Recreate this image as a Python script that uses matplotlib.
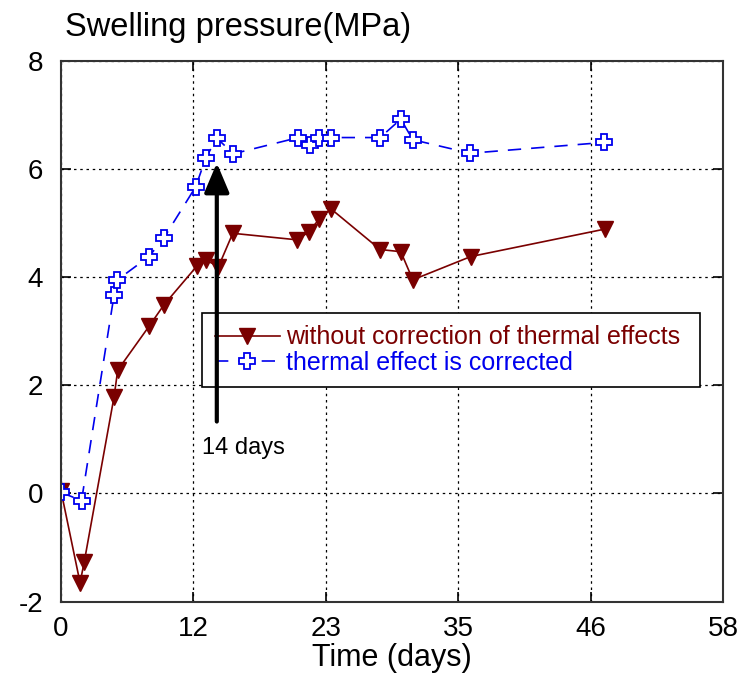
import matplotlib.pyplot as plt
import numpy as np

plt.rcParams['font.family'] = ['Liberation Sans', 'DejaVu Sans']
plt.rcParams['axes.unicode_minus'] = False

# --- data ---
t_raw = [0, 1.67, 2.04, 4.65, 4.97, 7.71, 9.03, 11.89, 12.68, 13.79,
         15.05, 20.65, 21.7, 22.64, 23.66, 27.96, 29.77, 30.82, 35.9, 47.7]
p_raw = [0.05, -1.65, -1.26, 1.79, 2.28, 3.09, 3.49, 4.20, 4.32, 4.19,
         4.81, 4.69, 4.83, 5.08, 5.26, 4.51, 4.47, 3.95, 4.38, 4.89]

t_corr = [0, 1.8, 4.65, 4.88, 7.71, 9.03, 11.8, 12.68, 13.65, 15.1,
          20.8, 21.8, 22.6, 23.66, 27.96, 29.77, 30.82, 35.85, 47.6]
p_corr = [0.02, -0.13, 3.67, 3.94, 4.38, 4.73, 5.67, 6.20, 6.57, 6.28,
          6.58, 6.45, 6.58, 6.58, 6.58, 6.92, 6.54, 6.29, 6.49]

x_ticks = np.linspace(0, 58, 6)
x_labels = ['0', '12', '23', '35', '46', '58']
y_ticks = [-2, 0, 2, 4, 6, 8]

label_raw = 'without correction of thermal effects'
label_corr = 'thermal effect is corrected'

red = '#7a0000'
blue = '#0000ee'

fig = plt.figure(figsize=(7.43, 6.87), dpi=100)
ax = fig.add_axes([0.0821, 0.1242, 0.891, 0.7874])

ax.plot(t_raw, p_raw, color=red, lw=1.2, marker='v', markersize=11,
        markerfacecolor=red, markeredgecolor=red, label=label_raw)
ax.plot(t_corr, p_corr, color=blue, lw=1.2, dashes=(8, 6), marker='P',
        markersize=12, markerfacecolor='white', markeredgecolor=blue,
        markeredgewidth=1.3, label=label_corr)

ax.set_xlim(0, 58)
ax.set_ylim(-2, 8)
ax.set_xticks(x_ticks)
ax.set_xticklabels(x_labels)
ax.set_yticks(y_ticks)
ax.grid(True, color='k', linestyle=(0, (2, 3)), lw=0.9)
ax.tick_params(direction='in', length=7, width=1.2, top=True, right=True,
               labelsize=20, colors='k')
ax.tick_params(axis='y', pad=13)
ax.tick_params(axis='x', pad=10)
for s in ax.spines.values():
    s.set_color('#333333')
    s.set_linewidth(1.5)

ax.set_xlabel('Time (days)', fontsize=22, labelpad=1)
fig.text(65 / 743, 1 - 36 / 687, 'Swelling pressure(MPa)', fontsize=23.5,
         va='baseline', ha='left')

leg = ax.legend(loc='upper left', bbox_to_anchor=(0.213, 0.394, 0.752, 0.14),
                mode='expand', borderaxespad=0, fontsize=18, handlelength=2.6,
                handletextpad=0.25, labelspacing=0.05, borderpad=0.5,
                fancybox=False, framealpha=1, edgecolor='k')
leg.get_frame().set_linewidth(1.2)
for txt, c in zip(leg.get_texts(), [red, blue]):
    txt.set_color(c)

# 14 days arrow
ax.annotate('', xy=(13.65, 6.11), xytext=(13.65, 1.33),
            arrowprops=dict(arrowstyle='-|>,head_length=0.9,head_width=0.38',
                            mutation_scale=20, lw=3, color='k',
                            shrinkA=0, shrinkB=0),
            zorder=10)
ax.text(12.33, 0.85, '14 days', fontsize=17, va='center', ha='left', zorder=10)

fig.savefig('out.png', dpi=100)
